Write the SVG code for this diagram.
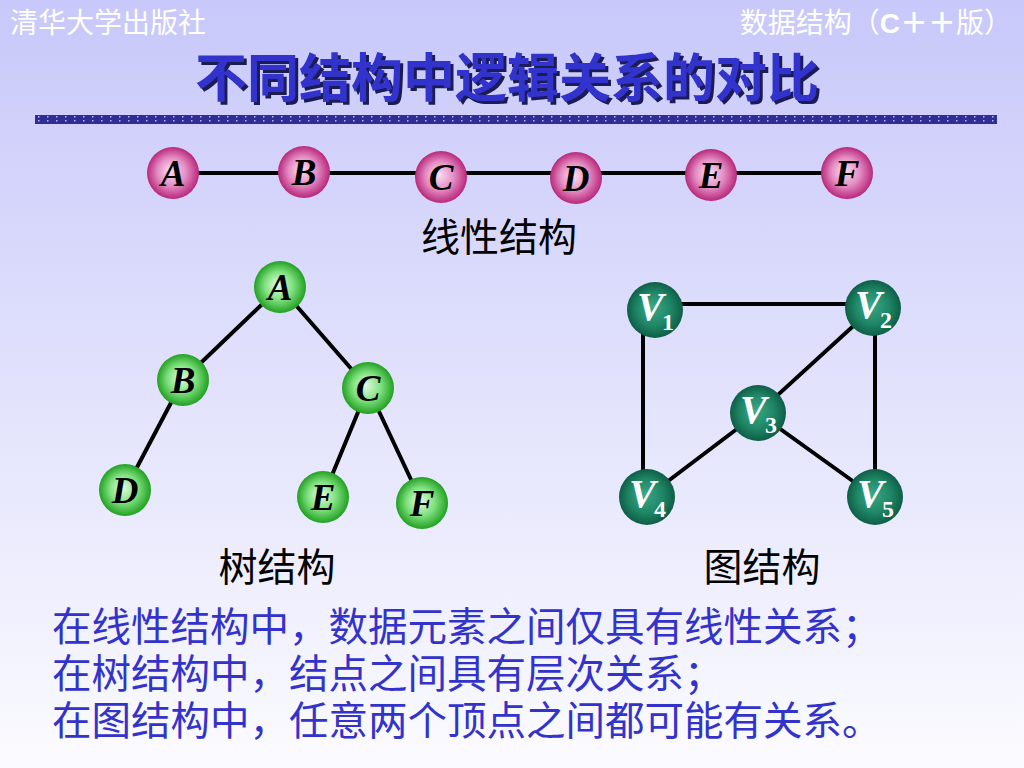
<svg xmlns="http://www.w3.org/2000/svg" width="1024" height="768" viewBox="0 0 1024 768">
<defs>
<linearGradient id="bg" x1="0" y1="0" x2="0" y2="1">
<stop offset="0" stop-color="#c8c8fa"/>
<stop offset="1" stop-color="#fbfbff"/>
</linearGradient>
<radialGradient id="pink" cx="0.5" cy="0.5" r="0.5" fx="0.45" fy="0.45">
<stop offset="0" stop-color="#fbe2f2"/>
<stop offset="0.55" stop-color="#e48cc4"/>
<stop offset="1" stop-color="#b8287a"/>
</radialGradient>
<radialGradient id="green" cx="0.5" cy="0.5" r="0.5" fx="0.45" fy="0.45">
<stop offset="0" stop-color="#e6fce6"/>
<stop offset="0.55" stop-color="#7ee07e"/>
<stop offset="1" stop-color="#22a022"/>
</radialGradient>
<radialGradient id="teal" cx="0.5" cy="0.5" r="0.5" fx="0.45" fy="0.45">
<stop offset="0" stop-color="#3aa888"/>
<stop offset="0.6" stop-color="#1f8766"/>
<stop offset="1" stop-color="#0e5e46"/>
</radialGradient>
<pattern id="dots" x="35" y="115" width="9" height="9" patternUnits="userSpaceOnUse">
<rect width="9" height="9" fill="#2e2e96"/>
<rect x="3" y="1" width="1.5" height="1.5" fill="#b8b8f0"/>
<rect x="3" y="5" width="1.5" height="1.5" fill="#b8b8f0"/>
</pattern>
<filter id="shadow" x="-5%" y="-20%" width="110%" height="140%">
<feDropShadow dx="3" dy="3" stdDeviation="0.5" flood-color="#1a1a55" flood-opacity="1"/>
</filter>
</defs>
<style>
.hdr{font-family:"Liberation Sans","Noto Sans CJK SC",sans-serif;font-size:28px;fill:#ffffff}
.title{font-family:"Noto Sans CJK SC",sans-serif;font-size:52px;font-weight:bold;fill:#3333cc}
.lbl{font-family:"Noto Sans CJK SC",sans-serif;font-size:39px;fill:#000000}
.desc{font-family:"Liberation Sans","Noto Sans CJK SC",sans-serif;font-size:39.5px;fill:#3333cc}
.let{font-family:"Liberation Serif",serif;font-size:37px;font-weight:bold;font-style:italic;fill:#000000;text-anchor:middle}
.vlet{font-family:"Liberation Serif",serif;font-size:40px;font-weight:bold;font-style:italic;fill:#ffffff}
.vsub{font-family:"Liberation Serif",serif;font-size:24px;font-weight:bold;font-style:normal;fill:#ffffff}
.edge{stroke:#000000;stroke-width:4;fill:none;stroke-linecap:round}
</style>
<rect x="0" y="0" width="1024" height="768" fill="url(#bg)"/>
<text class="hdr" x="10" y="33">清华大学出版社</text>
<text class="hdr" x="1012" y="33" text-anchor="end">数据结构（<tspan font-weight="bold">C＋＋</tspan>版）</text>
<text class="title" x="507" y="97" text-anchor="middle" filter="url(#shadow)">不同结构中逻辑关系的对比</text>
<rect x="35" y="115" width="962" height="9" fill="url(#dots)"/>
<g id="connectors">
<line class="edge" x1="173" y1="173" x2="847" y2="173" stroke-width="3"/>
<line class="edge" x1="280" y1="287" x2="183" y2="380"/>
<line class="edge" x1="280" y1="287" x2="368" y2="388"/>
<line class="edge" x1="183" y1="380" x2="125" y2="490"/>
<line class="edge" x1="368" y1="388" x2="323" y2="497"/>
<line class="edge" x1="368" y1="388" x2="422" y2="503"/>
<line class="edge" x1="655" y1="304" x2="873" y2="304"/>
<line class="edge" x1="643" y1="320" x2="643" y2="490"/>
<line class="edge" x1="875" y1="320" x2="875" y2="490"/>
<line class="edge" x1="873" y1="308" x2="758" y2="413"/>
<line class="edge" x1="758" y1="413" x2="647" y2="497"/>
<line class="edge" x1="758" y1="413" x2="875" y2="497"/>
</g>
<g id="lin-A"><circle cx="173" cy="173" r="26" fill="url(#pink)"/><text class="let" x="173" y="186">A</text></g>
<g id="lin-B"><circle cx="304" cy="172" r="26" fill="url(#pink)"/><text class="let" x="304" y="185">B</text></g>
<g id="lin-C"><circle cx="441" cy="177" r="26" fill="url(#pink)"/><text class="let" x="441" y="190">C</text></g>
<g id="lin-D"><circle cx="576" cy="178" r="26" fill="url(#pink)"/><text class="let" x="576" y="191">D</text></g>
<g id="lin-E"><circle cx="711" cy="175" r="26" fill="url(#pink)"/><text class="let" x="711" y="188">E</text></g>
<g id="lin-F"><circle cx="847" cy="173" r="26" fill="url(#pink)"/><text class="let" x="847" y="186">F</text></g>
<text class="lbl" x="499" y="251" text-anchor="middle">线性结构</text>
<g id="tree-A"><circle cx="280" cy="287" r="26" fill="url(#green)"/><text class="let" x="280" y="300">A</text></g>
<g id="tree-B"><circle cx="183" cy="380" r="26" fill="url(#green)"/><text class="let" x="183" y="393">B</text></g>
<g id="tree-C"><circle cx="368" cy="388" r="26" fill="url(#green)"/><text class="let" x="368" y="401">C</text></g>
<g id="tree-D"><circle cx="125" cy="490" r="26" fill="url(#green)"/><text class="let" x="125" y="503">D</text></g>
<g id="tree-E"><circle cx="323" cy="497" r="26" fill="url(#green)"/><text class="let" x="323" y="510">E</text></g>
<g id="tree-F"><circle cx="422" cy="503" r="26" fill="url(#green)"/><text class="let" x="422" y="516">F</text></g>
<text class="lbl" x="277" y="581" text-anchor="middle">树结构</text>
<g id="g-V1"><circle cx="655" cy="310" r="28" fill="url(#teal)"/><text class="vlet" x="637" y="320">V</text><text class="vsub" x="662" y="330">1</text></g>
<g id="g-V2"><circle cx="873" cy="308" r="28" fill="url(#teal)"/><text class="vlet" x="855" y="318">V</text><text class="vsub" x="880" y="328">2</text></g>
<g id="g-V3"><circle cx="758" cy="413" r="28" fill="url(#teal)"/><text class="vlet" x="740" y="423">V</text><text class="vsub" x="765" y="433">3</text></g>
<g id="g-V4"><circle cx="647" cy="497" r="28" fill="url(#teal)"/><text class="vlet" x="629" y="507">V</text><text class="vsub" x="654" y="517">4</text></g>
<g id="g-V5"><circle cx="875" cy="497" r="28" fill="url(#teal)"/><text class="vlet" x="857" y="507">V</text><text class="vsub" x="882" y="517">5</text></g>
<text class="lbl" x="762" y="581" text-anchor="middle">图结构</text>
<text class="desc" x="52" y="641"><tspan x="52" y="641">在线性结构中，数据元素之间仅具有线性关系；</tspan><tspan x="52" y="688">在树结构中，结点之间具有层次关系；</tspan><tspan x="52" y="735">在图结构中，任意两个顶点之间都可能有关系。</tspan></text>
</svg>
